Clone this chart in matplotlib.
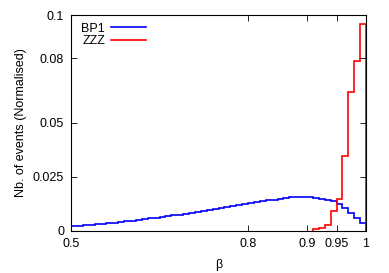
import numpy as np
import matplotlib
matplotlib.use("Agg")
import matplotlib.pyplot as plt

plt.rcParams['font.family'] = ['Liberation Sans', 'DejaVu Sans']

# bin edges in beta (width 0.01)
beta_edges = np.round(np.arange(0.50, 1.0001, 0.01), 2)

# BP1 histogram (50 bins, 0.50 -> 1.00)
bp1 = [0.0023, 0.0024, 0.0026, 0.0027, 0.0029, 0.0031, 0.0034, 0.0037, 0.0040, 0.0043,
       0.0047, 0.0050, 0.0053, 0.0057, 0.0060, 0.0064, 0.0067, 0.0071, 0.0074, 0.0078,
       0.0082, 0.0087, 0.0091, 0.0096, 0.0100, 0.0105, 0.0109, 0.0114, 0.0118, 0.0123,
       0.0127, 0.0131, 0.0136, 0.0140, 0.0144, 0.0148, 0.0151, 0.0154, 0.0156, 0.0158,
       0.0155, 0.0152, 0.0148, 0.0143, 0.0137, 0.0122, 0.0104, 0.0084, 0.0058, 0.0035]

# ZZZ histogram, non-zero bins only (0.91 -> 1.00)
zzz_start = 0.91
zzz = [0.0006, 0.0014, 0.0025, 0.0093, 0.0146, 0.0348, 0.0642, 0.0787, 0.0958]

xticks = [0.5, 0.8, 0.9, 0.95, 1]
xtick_labels = ['0.5', '0.8', '0.9', '0.95', '1']
yticks = [0, 0.025, 0.05, 0.08, 0.1]
ytick_labels = ['0', '0.025', '0.05', '0.08', '0.1']

fig = plt.figure(figsize=(3.89, 2.73), dpi=100)
ax = fig.add_axes([0.1825, 0.155, 0.7585, 0.79])

ax.stairs(bp1, beta_edges, baseline=0, color='#0000ff', lw=1.2, label='BP1')
zzz_edges = beta_edges[beta_edges >= zzz_start - 1e-9]
ax.stairs(zzz, zzz_edges, baseline=0, color='#ff0000', lw=1.2, label='ZZZ')

ax.set_xlim(0.5, 1.0)
ax.set_ylim(0, 0.1)
ax.set_xticks(xticks)
ax.set_xticklabels(xtick_labels)
ax.set_yticks(yticks)
ax.set_yticklabels(ytick_labels)
ax.tick_params(direction='in', top=True, right=True, length=4, width=0.6, labelsize=9, pad=5)
for s in ax.spines.values():
    s.set_linewidth(0.8)

ax.set_xlabel('β', fontsize=9, labelpad=7)
ax.set_ylabel('Nb. of events (Normalised)', fontsize=9, labelpad=4)

ax.legend(loc='upper left', frameon=False, markerfirst=False, fontsize=9,
          handlelength=2.8, handletextpad=0.5, labelspacing=0.05,
          borderaxespad=0.2, bbox_to_anchor=(0.01, 1.0))

fig.savefig('out.png', dpi=100)
